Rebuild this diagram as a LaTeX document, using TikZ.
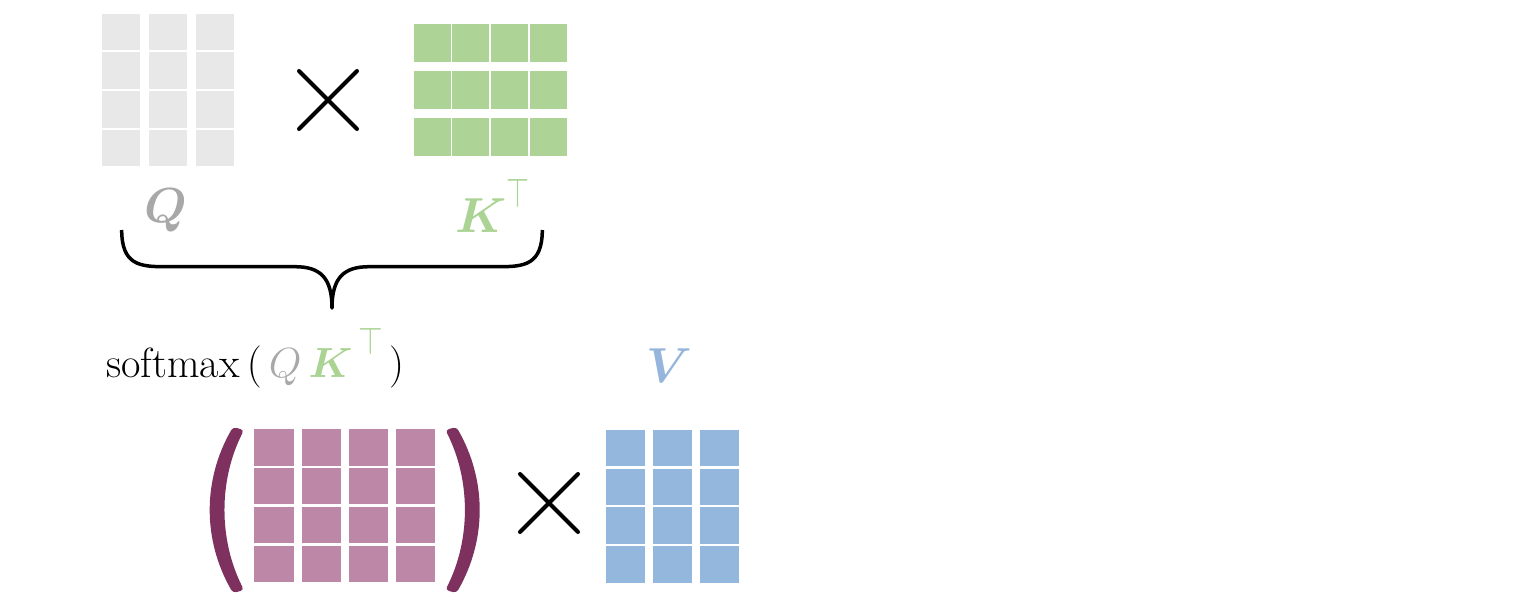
\documentclass[tikz,border=0pt]{standalone}
\usepackage{fix-cm}
\usepackage{amsmath,bm,graphicx}
\usetikzlibrary{positioning,shapes.misc}

\definecolor{qgray}{RGB}{232,232,232}
\definecolor{kgreen}{RGB}{174,211,150}
\definecolor{spink}{RGB}{189,136,167}
\definecolor{sparen}{RGB}{126,49,95}
\definecolor{vblue}{RGB}{148,183,221}
\definecolor{qlabel}{RGB}{168,168,168}
\definecolor{klabel}{RGB}{170,211,148}
\definecolor{vlabel}{RGB}{150,181,220}

\begin{document}
\begin{tikzpicture}[cell/.style={rectangle,inner sep=0pt,outer sep=0pt},
                       q node/.style={cell,fill=qgray,minimum width=0.77cm,minimum height=0.73cm},
                       k node/.style={cell,fill=kgreen,minimum width=0.74cm,minimum height=0.76cm},
                       s node/.style={cell,fill=spink,minimum width=0.786cm,minimum height=0.726cm},
                       v node/.style={cell,fill=vblue,minimum width=0.776cm,minimum height=0.726cm},
                       times node/.style={cross out,draw,line width=0.08cm,line cap=round,minimum size=1.08cm,inner sep=0pt},
                       label node/.style={inner sep=0pt,font=\fontsize{28}{34}\selectfont},
                       sm node/.style={inner sep=0pt,font=\fontsize{24}{29}\selectfont}
                      ]
  \useasboundingbox (0,0) rectangle (30.36,-12.04);

  % Q and K^T
  \foreach \c in {0,1,2}
    \foreach \r in {0,...,3}
      \node[q node] (q\c\r) at ({2.42+0.94*\c},{-0.645-0.77*\r}) {};
  \foreach \c in {0,...,3}
    \foreach \r in {0,1,2}
      \node[k node] (k\c\r) at ({8.64+0.776*\c},{-0.86-0.94*\r}) {};
  \node[times node] (mul1) at (6.56,-2.0) {};

  \node[label node,anchor=base] (qlab) at (3.32,-4.44) {$\color{qlabel}\boldsymbol{Q}$};
  \node[label node,anchor=base west] (klab) at (9.1,-4.64)
      {$\color{klabel}\boldsymbol{K}^{\raisebox{4pt}{\scalebox{0.6}[0.85]{$\top$}}}$};

  % brace
  \draw[line width=0.07cm,line join=round]
      (2.434,-4.6) .. controls (2.434,-5.3) and (2.8,-5.334) .. (3.3,-5.334) -- (5.9,-5.334)
      .. controls (6.4,-5.334) and (6.64,-5.55) .. (6.64,-6.16)
      .. controls (6.64,-5.55) and (6.88,-5.334) .. (7.38,-5.334) -- (9.98,-5.334)
      .. controls (10.48,-5.334) and (10.846,-5.3) .. (10.846,-4.6);

  \node[sm node,anchor=base west] (sm) at (2.12,-7.54)
      {softmax$\,(\,{\color{qlabel}Q}\,{\color{klabel}\boldsymbol{K}^{\mkern4mu\raisebox{4pt}{\scalebox{0.75}[0.92]{$\top$}}}}\mkern2mu)$};

  % softmax(QK^T) and V
  \foreach \c in {0,...,3}
    \foreach \r in {0,...,3}
      \node[s node] (s\c\r) at ({5.48+0.944*\c},{-8.95-0.776*\r}) {};
  \fill[sparen,rounded corners=2pt]
      (4.66,-8.54) .. controls (4.05,-9.6) and (4.05,-10.8) .. (4.66,-11.86)
      -- (4.88,-11.80) .. controls (4.37,-10.8) and (4.37,-9.6) .. (4.88,-8.60) -- cycle;
  \fill[sparen,rounded corners=2pt]
      (9.128,-8.54) .. controls (9.738,-9.6) and (9.738,-10.8) .. (9.128,-11.86)
      -- (8.908,-11.80) .. controls (9.418,-10.8) and (9.418,-9.6) .. (8.908,-8.60) -- cycle;

  \node[times node] (mul2) at (10.98,-10.06) {};
  \foreach \c in {0,1,2}
    \foreach \r in {0,...,3}
      \node[v node] (v\c\r) at ({12.506+0.942*\c},{-8.96-0.776*\r}) {};
  \node[label node,anchor=base] (vlab) at (13.38,-7.64) {$\color{vlabel}\boldsymbol{V}$};
\end{tikzpicture}
\end{document}
